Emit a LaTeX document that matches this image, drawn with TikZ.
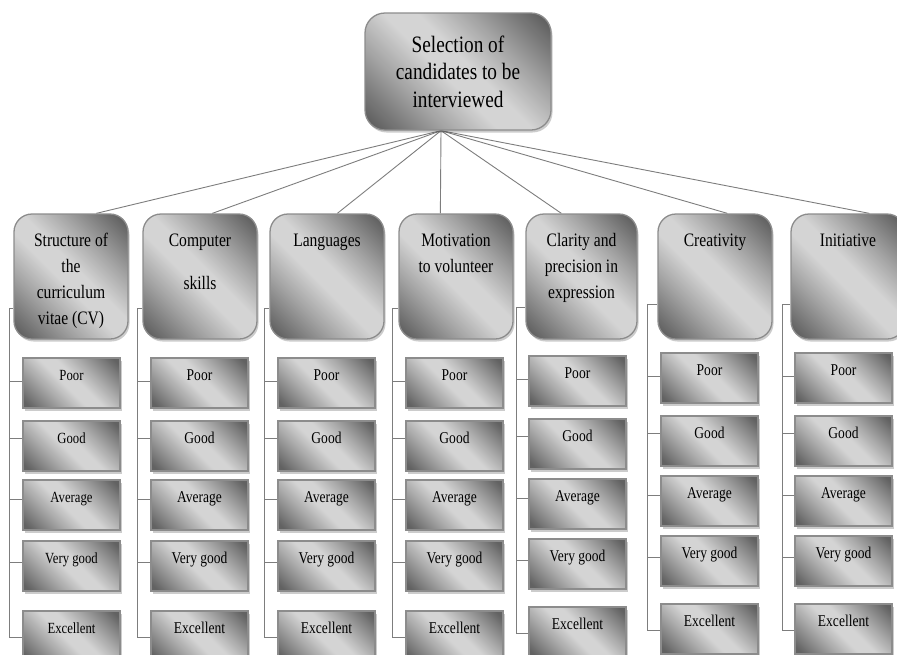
\documentclass[tikz,border=0pt]{standalone}
\usepackage{fontspec}
\setmainfont{Liberation Serif}[FakeStretch=0.82]
\usetikzlibrary{shadows,backgrounds}

\definecolor{shdark}{RGB}{98,98,98}
\definecolor{shmid}{RGB}{165,165,165}
\definecolor{shlight}{RGB}{212,212,212}
\definecolor{edgegray}{RGB}{140,140,140}
\definecolor{wiregray}{RGB}{125,125,125}

% diagonal metallic fill: dark corners, broad light band
\pgfdeclareverticalshading{metal}{100bp}{
  color(0bp)=(shdark); color(18bp)=(shdark); color(34bp)=(shmid);
  color(46bp)=(shlight); color(54bp)=(shlight); color(66bp)=(shmid);
  color(82bp)=(shdark); color(100bp)=(shdark)}

% text blocks pinned to the top of a box of fixed size
\newcommand{\cattext}[2]{\parbox[c][125pt][t]{#1}{\centering\fontsize{19}{26}\selectfont\rule{0pt}{32pt}#2}}
\newcommand{\leaftext}[1]{\parbox[c][50pt][t]{97pt}{\centering\rule{0pt}{22pt}#1}}

\tikzset{
  shadebox/.style={shading=metal, shading angle=-45},
  softshadow/.style={drop shadow={shadow xshift=1.5pt, shadow yshift=-2.5pt, fill=black, opacity=0.2}},
  rootbox/.style={shadebox, softshadow, draw=edgegray, line width=1.3pt, rounded corners=20pt,
    minimum width=186pt, minimum height=117pt, inner sep=0pt, align=center,
    font=\fontsize{23.5}{27.5}\selectfont},
  catbox/.style={shadebox, softshadow, draw=edgegray, line width=1.3pt, rounded corners=18pt, inner sep=0pt},
  leafbox/.style={shadebox, softshadow, draw=edgegray, line width=1.2pt, inner sep=0pt},
  wire/.style={draw=wiregray, line width=0.9pt}
}

\begin{document}
\begin{tikzpicture}[x=1pt, y=-1pt]
  \useasboundingbox (0,0) rectangle (897,654);
  \clip (0,0) rectangle (897,654);

  % root
  \node[rootbox] (root) at (458,71.5) {Selection of\\candidates to be\\interviewed};
  \coordinate (hub) at ([xshift=-17pt]root.south);

  % criteria
  \node[catbox] (c1) at (71,276.5)    {\cattext{114pt}{Structure of\\the\\curriculum\\vitae (CV)}};
  \node[catbox] (c2) at (200,276.5)   {\cattext{114pt}{Computer\\[17pt]skills}};
  \node[catbox] (c3) at (327,276.5)   {\cattext{114pt}{Languages}};
  \node[catbox] (c4) at (456,276.5)   {\cattext{114pt}{Motivation\\to volunteer}};
  \node[catbox] (c5) at (581.5,276.5) {\cattext{111pt}{Clarity and\\precision in\\expression}};
  \node[catbox] (c6) at (715,276.5)   {\cattext{114pt}{Creativity}};
  \node[catbox] (c7) at (848,276.5)   {\cattext{114pt}{Initiative}};

  % rating scales under each criterion
  \foreach \c/\lx/\vx/\sy/\ya/\yb/\yc/\yd/\ye/\fs in {
      1/71.5/9.5/308/383/446/505/566/636/15.5,
      2/199.5/137/308/383/446/505/566/636/16.5,
      3/326.5/264/308/383/446/505/566/636/16.5,
      4/454.5/392.5/308/383/446/505/566/636/16.5,
      5/577.5/516/307/381/444/504/564/632/16.5,
      6/709.5/647/304/378/441/501/561/629/16.5,
      7/843.5/782/304/378/441/501/561/629/16.5}
  {
    \coordinate (v\c) at (\vx,\sy);
    \foreach \r/\y/\t/\ys in {a/\ya/Poor/2, b/\yb/Good/8, c/\yc/Average/6, d/\yd/Very good/4, e/\ye/Excellent/-1}
    {
      \node[leafbox, font=\fontsize{\fs}{20}\selectfont] (l\c\r) at (\lx,\y) {\leaftext{\t}};
      \path ([yshift=\ys pt]l\c\r.west) coordinate (s\c\r);
    }
  }

  \begin{pgfonlayer}{background}
    % root to criteria
    \foreach \c/\off in {1/83, 2/70, 3/68, 4/42, 5/36, 6/70, 7/79}
      \draw[wire] (hub) -- ([xshift=\off pt]c\c.north west);
    % criterion brackets
    \foreach \c in {1,...,7}
    {
      \draw[wire] (c\c.west |- v\c) -- (v\c) -- (v\c |- s\c e) -- (s\c e);
      \foreach \r in {a,b,c,d}
        \draw[wire] (s\c\r) -- (s\c\r -| v\c);
    }
  \end{pgfonlayer}
\end{tikzpicture}
\end{document}
